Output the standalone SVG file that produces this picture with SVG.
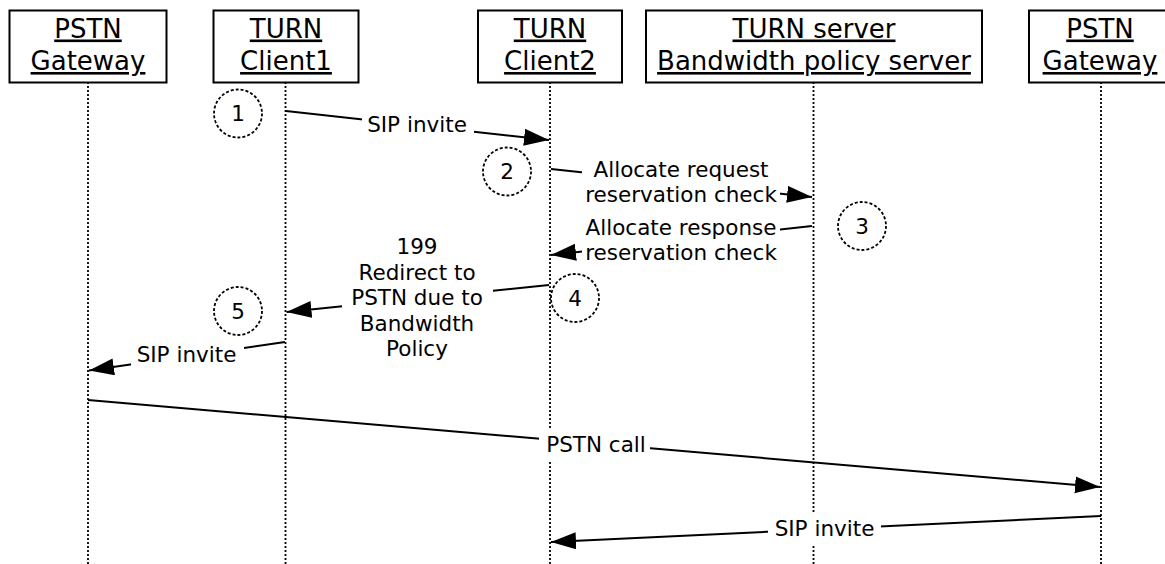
<svg xmlns="http://www.w3.org/2000/svg" width="1165" height="564" viewBox="0 0 1165 564">
<defs>
<style>
.box{fill:#fff;stroke:#000;stroke-width:2}
.ht{font-family:"DejaVu Sans",Verdana,sans-serif;font-size:26px;text-anchor:middle;fill:#000;text-decoration:underline}
.life{stroke:#000;stroke-width:1.8;stroke-dasharray:2 2;fill:none}
.msg{stroke:#000;stroke-width:2;fill:none;marker-end:url(#ah)}
.lbl{font-family:"DejaVu Sans",Verdana,sans-serif;font-size:21.5px;text-anchor:middle;fill:#000}
.bg{fill:#fff}
.step{fill:none;stroke:#000;stroke-width:1.8;stroke-dasharray:3 2}
.num{font-family:"DejaVu Sans",Verdana,sans-serif;font-size:21.5px;text-anchor:middle;fill:#000}
</style>
<marker id="ah" markerUnits="userSpaceOnUse" markerWidth="27" markerHeight="18" refX="25" refY="8.5" orient="auto">
<path d="M0,0 L25,8.5 L0,17 z" fill="#000"/>
</marker>
</defs>
<g id="pstn-gateway-1">
<line class="life" x1="88" y1="82" x2="88" y2="564"/>
<rect class="box" x="9.5" y="10.5" width="157" height="72"/>
<text class="ht" x="88" y="37.5">PSTN</text>
<text class="ht" x="88" y="70">Gateway</text>
</g>
<g id="turn-client1">
<line class="life" x1="285.5" y1="82" x2="285.5" y2="564"/>
<rect class="box" x="213.5" y="10.5" width="145" height="72"/>
<text class="ht" x="286" y="37.5">TURN</text>
<text class="ht" x="286" y="70">Client1</text>
</g>
<g id="turn-client2">
<line class="life" x1="550" y1="82" x2="550" y2="564"/>
<rect class="box" x="478" y="10.5" width="144" height="72"/>
<text class="ht" x="550" y="37.5">TURN</text>
<text class="ht" x="550" y="70">Client2</text>
</g>
<g id="turn-server">
<line class="life" x1="813.5" y1="82" x2="813.5" y2="564"/>
<rect class="box" x="646" y="10.5" width="336" height="72"/>
<text class="ht" x="814" y="37.5">TURN server</text>
<text class="ht" x="814" y="70">Bandwidth policy server</text>
</g>
<g id="pstn-gateway-2">
<line class="life" x1="1101" y1="82" x2="1101" y2="564"/>
<rect class="box" x="1029" y="10.5" width="144" height="72"/>
<text class="ht" x="1100" y="37.5">PSTN</text>
<text class="ht" x="1100" y="70">Gateway</text>
</g>
<g id="connectors">
<line class="msg" x1="286" y1="111" x2="549" y2="140"/>
<rect class="bg" x="362" y="114" width="112" height="24"/>
<text class="lbl" x="417" y="132">SIP invite</text>

<line class="msg" x1="551" y1="169" x2="812" y2="197"/>
<rect class="bg" x="582" y="159" width="198" height="48"/>
<text class="lbl" x="681" y="177">Allocate request</text>
<text class="lbl" x="681" y="202">reservation check</text>

<line class="msg" x1="812" y1="226" x2="551" y2="255"/>
<rect class="bg" x="582" y="216" width="198" height="49"/>
<text class="lbl" x="681" y="234.5">Allocate response</text>
<text class="lbl" x="681" y="259.5">reservation check</text>

<line class="msg" x1="549" y1="285" x2="286.5" y2="312"/>
<rect class="bg" x="342" y="236" width="151" height="126"/>
<text class="lbl" x="417" y="254">199</text>
<text class="lbl" x="417" y="279.5">Redirect to</text>
<text class="lbl" x="417" y="305">PSTN due to</text>
<text class="lbl" x="417" y="330.5">Bandwidth</text>
<text class="lbl" x="417" y="356">Policy</text>

<line class="msg" x1="285" y1="342" x2="89" y2="370.5"/>
<rect class="bg" x="131" y="343" width="113" height="26"/>
<text class="lbl" x="186.5" y="362">SIP invite</text>

<line class="msg" x1="88" y1="400" x2="1100" y2="487"/>
<rect class="bg" x="539" y="430" width="111" height="32"/>
<text class="lbl" x="596" y="452">PSTN call</text>

<line class="msg" x1="1101" y1="516" x2="551" y2="542"/>
<rect class="bg" x="768" y="513" width="113" height="32"/>
<text class="lbl" x="824.5" y="536">SIP invite</text>
</g>
<g id="step-1"><circle class="step" cx="238" cy="113.5" r="24"/><text class="num" x="238" y="121">1</text></g>
<g id="step-2"><circle class="step" cx="507" cy="171.5" r="24"/><text class="num" x="507" y="179">2</text></g>
<g id="step-3"><circle class="step" cx="862" cy="226" r="24"/><text class="num" x="862" y="233.5">3</text></g>
<g id="step-4"><circle class="step" cx="575" cy="298" r="24"/><text class="num" x="575" y="305.5">4</text></g>
<g id="step-5"><circle class="step" cx="238" cy="311" r="24"/><text class="num" x="238" y="318.5">5</text></g>
</svg>
